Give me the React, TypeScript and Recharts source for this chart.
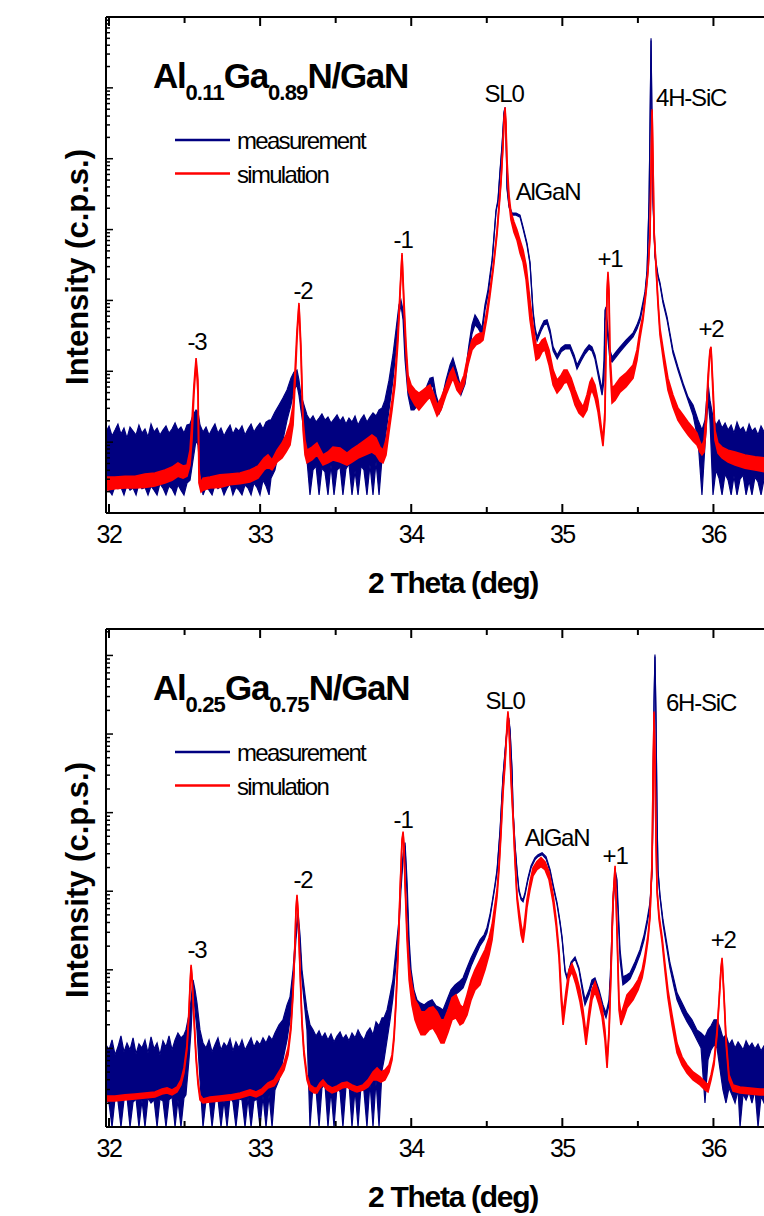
import React from 'react';
import { ComposedChart, Area, XAxis, YAxis, ReferenceDot } from 'recharts';

// Each row: [2 Theta (deg), lower edge of trace, upper edge of trace] in c.p.s.
type Row = [number, number, number];

const NAVY = '#000080';
const RED = '#ff0000';
const FONT = '"Liberation Sans", Arial, Helvetica, sans-serif';

const xTicks = [32, 32.5, 33, 33.5, 34, 34.5, 35, 35.5, 36, 36.5];
const xTickLabels = ['32', '', '33', '', '34', '', '35', '', '36', ''];
const decadesTop = [1, 10, 100, 1000, 10000, 100000, 1000000];
const decadesBottom = [1, 10, 100, 1000, 10000, 100000, 1000000];
const minorSteps = [1, 2, 3, 4, 5, 6, 7, 8, 9];

const topMeasurement: Row[] = [
  [31.98, 2.25, 13.9], [32.0, 2.1, 16.9], [32.02, 1.8, 12.2], [32.04, 2.4, 14.8],
  [32.059, 2.2, 18.0], [32.079, 2.3, 13.0], [32.099, 1.8, 15.8], [32.119, 2.5, 11.4],
  [32.139, 2.1, 16.3], [32.159, 2.25, 14.3], [32.179, 1.8, 12.6], [32.198, 2.6, 17.4],
  [32.218, 2.2, 13.4], [32.238, 2.3, 15.3], [32.258, 1.8, 11.8], [32.278, 2.4, 18.0],
  [32.298, 2.1, 13.9], [32.318, 1.8, 15.8], [32.337, 2.6, 12.6], [32.357, 2.25, 14.8],
  [32.377, 1.8, 16.9], [32.397, 2.4, 13.4], [32.417, 2.2, 15.3], [32.437, 1.8, 18.6],
  [32.456, 2.5, 14.8], [32.476, 2.1, 16.3], [32.496, 1.8, 13.4], [32.516, 2.65, 17.4],
  [32.536, 2.9, 18.0], [32.556, 5.6, 24.2], [32.576, 10.7, 28.5], [32.589, 9.1, 26.7],
  [32.602, 4.05, 17.4], [32.622, 1.8, 13.9], [32.642, 2.3, 16.3], [32.662, 2.1, 12.6],
  [32.682, 1.8, 15.3], [32.701, 2.5, 18.0], [32.721, 2.2, 13.4], [32.741, 2.4, 15.8],
  [32.761, 1.8, 12.2], [32.781, 2.25, 14.8], [32.801, 2.6, 17.4], [32.82, 1.8, 13.0],
  [32.84, 2.3, 15.8], [32.86, 2.1, 14.3], [32.88, 1.8, 16.9], [32.9, 2.5, 12.6],
  [32.92, 2.25, 15.3], [32.94, 1.8, 18.0], [32.959, 2.65, 13.9], [32.979, 2.3, 16.3],
  [32.999, 1.8, 18.6], [33.019, 2.9, 15.3], [33.039, 2.4, 19.2], [33.059, 1.8, 20.5],
  [33.072, 3.1, 20.5], [33.098, 4.05, 26.7], [33.125, 7.7, 33.4], [33.151, 10.7, 41.8],
  [33.178, 20.5, 54.4], [33.204, 33.4, 80], [33.224, 54.4, 97.5], [33.244, 64, 104],
  [33.257, 46.2, 75], [33.27, 28.5, 46.2], [33.29, 14.8, 33.4], [33.31, 5.6, 24.2],
  [33.33, 1.8, 20.5], [33.35, 4.05, 23.4], [33.37, 4.6, 19.2], [33.39, 1.8, 21.9],
  [33.409, 4.3, 25.0], [33.429, 3.8, 20.5], [33.449, 1.8, 22.6], [33.469, 4.75, 18.6],
  [33.489, 1.8, 21.2], [33.509, 4.05, 24.2], [33.529, 4.45, 19.8], [33.548, 1.8, 22.6],
  [33.568, 4.18, 18.0], [33.588, 4.92, 21.9], [33.608, 1.8, 19.2], [33.628, 3.92, 23.4],
  [33.648, 1.8, 17.4], [33.668, 4.6, 21.2], [33.687, 4.05, 24.2], [33.707, 1.8, 19.2],
  [33.727, 4.75, 22.6], [33.747, 1.8, 25.8], [33.767, 5.25, 23.4], [33.787, 1.8, 28.5],
  [33.807, 5.97, 30.4], [33.826, 10.7, 39.1], [33.853, 28.5, 75], [33.879, 75, 170],
  [33.899, 200, 383], [33.919, 626, 864], [33.932, 864, 1015], [33.946, 532, 727],
  [33.959, 144, 276], [33.979, 46.2, 75], [33.999, 28.5, 46.2], [34.018, 28.5, 39.1],
  [34.045, 33.4, 49.3], [34.071, 33.4, 46.2], [34.098, 41.8, 58], [34.124, 58, 80],
  [34.144, 62, 82.6], [34.164, 33.4, 46.2], [34.184, 25.0, 33.4], [34.204, 31.4, 41.8],
  [34.23, 54.4, 75], [34.257, 94, 123], [34.276, 119, 154], [34.303, 75, 97.5],
  [34.329, 46.2, 58], [34.356, 66, 88], [34.382, 170, 236], [34.402, 336, 452],
  [34.422, 452, 626], [34.442, 408, 532], [34.468, 325, 408], [34.488, 727, 864],
  [34.508, 1200, 1410], [34.521, 1970, 2300], [34.535, 3480, 3700], [34.548, 7810, 8340],
  [34.561, 17700, 18900], [34.574, 24600, 26200], [34.588, 65500, 70000], [34.601, 147000, 157000],
  [34.614, 435000, 464000], [34.621, 497000, 532000], [34.627, 242000, 258000], [34.634, 37500, 40000],
  [34.647, 20800, 22300], [34.667, 16000, 17100], [34.694, 16000, 17100], [34.72, 15000, 16000],
  [34.74, 10200, 10900], [34.766, 6040, 6460], [34.786, 3260, 3480], [34.806, 669, 727],
  [34.82, 358, 408], [34.833, 268, 305], [34.859, 370, 422], [34.879, 452, 515],
  [34.899, 467, 532], [34.919, 336, 383], [34.939, 194, 221], [34.966, 149, 170],
  [34.992, 188, 214], [35.018, 207, 236], [35.051, 207, 236], [35.078, 149, 170],
  [35.097, 107, 123], [35.124, 140, 159], [35.15, 175, 200], [35.177, 207, 236],
  [35.196, 194, 221], [35.216, 149, 170], [35.243, 75, 88], [35.263, 46.2, 54.4],
  [35.276, 75, 144], [35.282, 532, 727], [35.289, 626, 810], [35.302, 276, 383],
  [35.315, 144, 200], [35.329, 135, 159], [35.355, 159, 188], [35.382, 188, 221],
  [35.421, 236, 276], [35.468, 305, 347], [35.494, 395, 452], [35.514, 515, 587],
  [35.534, 836, 955], [35.547, 1160, 1320], [35.561, 2540, 2680], [35.574, 24600, 26200],
  [35.58, 242000, 258000], [35.587, 4670000, 5000000], [35.594, 242000, 258000], [35.6, 24600, 26200],
  [35.613, 4100, 4370], [35.633, 2150, 2300], [35.646, 1670, 1780], [35.666, 922, 1015],
  [35.693, 532, 587], [35.712, 315, 347], [35.732, 181, 200], [35.765, 104, 115],
  [35.799, 62, 68], [35.832, 39.1, 43.2], [35.865, 24.2, 33.4], [35.898, 10.7, 20.5],
  [35.924, 1.8, 14.8], [35.944, 9.1, 20.5], [35.964, 39.1, 68], [35.977, 20.5, 39.1],
  [35.997, 1.8, 22.6], [36.017, 4.05, 17.4], [36.037, 3.1, 20.5], [36.057, 1.8, 15.8],
  [36.077, 3.55, 18.6], [36.097, 2.9, 14.8], [36.117, 1.8, 17.4], [36.136, 3.3, 13.4],
  [36.156, 1.8, 19.2], [36.176, 3.0, 14.8], [36.196, 3.45, 16.3], [36.216, 1.8, 13.0],
  [36.236, 2.83, 18.0], [36.255, 1.8, 14.3], [36.275, 3.22, 15.8], [36.295, 2.75, 12.6],
  [36.315, 1.8, 16.9], [36.335, 3.0, 13.9], [36.374, 1.8, 14.8], [36.44, 2.9, 13.9],
  [36.506, 2.1, 14.8],
];

const topSimulation: Row[] = [
  [31.98, 2.1, 3.22], [32.039, 2.2, 3.22], [32.106, 2.25, 3.3], [32.172, 2.25, 3.3],
  [32.238, 2.3, 3.55], [32.304, 2.4, 3.67], [32.37, 2.65, 4.05], [32.417, 2.9, 4.45],
  [32.456, 3.3, 5.1], [32.49, 3.1, 4.6], [32.516, 3.3, 4.75], [32.536, 4.75, 7.7],
  [32.549, 10.7, 20.5], [32.562, 46.2, 64], [32.576, 135, 154], [32.589, 46.2, 75],
  [32.595, 2.65, 4.05], [32.609, 1.98, 2.65], [32.622, 2.1, 3.1], [32.668, 2.25, 3.22],
  [32.734, 2.3, 3.45], [32.8, 2.5, 3.55], [32.867, 2.6, 3.67], [32.933, 2.75, 4.05],
  [32.986, 3.1, 4.6], [33.026, 4.05, 5.97], [33.052, 4.45, 6.6], [33.079, 4.05, 5.6],
  [33.112, 5.25, 7.7], [33.145, 5.97, 9.7], [33.171, 7.25, 12.6], [33.198, 9.1, 18.6],
  [33.218, 17.4, 33.4], [33.231, 64, 104], [33.244, 276, 383], [33.257, 864, 922],
  [33.27, 170, 236], [33.284, 14.8, 20.5], [33.297, 6.6, 10.7], [33.31, 5.1, 7.7],
  [33.343, 5.6, 8.5], [33.376, 6.6, 9.7], [33.416, 4.75, 6.6], [33.449, 5.1, 7.25],
  [33.482, 5.6, 8.5], [33.529, 5.25, 8.25], [33.575, 4.75, 7.0], [33.608, 5.25, 7.97],
  [33.648, 5.97, 9.1], [33.694, 6.6, 10.7], [33.74, 7.25, 12.6], [33.767, 6.6, 11.4],
  [33.793, 5.4, 8.5], [33.813, 5.1, 7.7], [33.833, 6.6, 10.7], [33.853, 13.9, 20.5],
  [33.873, 28.5, 39.1], [33.893, 64, 88], [33.913, 276, 383], [33.926, 1200, 1410],
  [33.939, 4370, 4660], [33.952, 727, 1015], [33.966, 170, 236], [33.979, 54.4, 88],
  [33.999, 41.8, 64], [34.025, 33.4, 54.4], [34.051, 28.5, 49.3], [34.078, 33.4, 54.4],
  [34.104, 39.1, 60], [34.124, 43.2, 64], [34.151, 30.4, 46.2], [34.171, 23.4, 33.4],
  [34.197, 28.5, 41.8], [34.23, 46.2, 64], [34.257, 64, 94], [34.276, 80, 111],
  [34.303, 54.4, 75], [34.323, 47.7, 64], [34.349, 64, 88], [34.376, 123, 170],
  [34.402, 200, 276], [34.429, 236, 325], [34.455, 252, 347], [34.475, 276, 347],
  [34.501, 568, 727], [34.521, 1160, 1410], [34.541, 2540, 2860], [34.554, 4520, 5150],
  [34.568, 8620, 9830], [34.581, 19500, 22300], [34.594, 45600, 50300], [34.607, 143000, 157000],
  [34.614, 325000, 352000], [34.621, 497000, 532000], [34.627, 258000, 304000], [34.634, 70000, 96000],
  [34.647, 23800, 30900], [34.66, 13700, 17700], [34.68, 9200, 12800], [34.7, 7100, 9830],
  [34.72, 4660, 7100], [34.74, 3480, 5150], [34.76, 1970, 3150], [34.786, 532, 1015],
  [34.806, 276, 452], [34.826, 144, 236], [34.846, 154, 236], [34.866, 188, 276],
  [34.885, 200, 295], [34.912, 123, 200], [34.939, 64, 104], [34.965, 49.3, 75],
  [34.992, 58, 88], [35.011, 68, 104], [35.031, 70.5, 104], [35.058, 50.9, 80],
  [35.084, 33.4, 54.4], [35.11, 25.8, 39.1], [35.137, 22.6, 31.4], [35.163, 28.5, 46.2],
  [35.183, 46.2, 70.5], [35.196, 54.4, 80], [35.216, 41.8, 64], [35.236, 26.7, 39.1],
  [35.256, 13.4, 17.4], [35.269, 8.8, 10.7], [35.282, 20.5, 28.5], [35.289, 200, 276],
  [35.296, 1200, 1410], [35.302, 2300, 2540], [35.309, 1015, 1410], [35.315, 123, 200],
  [35.329, 35.7, 58], [35.349, 39.1, 64], [35.382, 50.9, 80], [35.421, 60, 94],
  [35.468, 80, 123], [35.494, 144, 200], [35.514, 295, 383], [35.534, 532, 626],
  [35.554, 1280, 1410], [35.567, 2540, 2680], [35.58, 7810, 8340], [35.587, 65500, 70000],
  [35.594, 464000, 497000], [35.6, 91000, 96000], [35.607, 9200, 9830], [35.62, 2860, 3150],
  [35.633, 864, 1015], [35.646, 325, 408], [35.673, 123, 170], [35.699, 54.4, 80],
  [35.732, 31.4, 46.2], [35.765, 20.5, 30.4], [35.799, 15.8, 24.2], [35.832, 12.6, 19.2],
  [35.865, 10.4, 15.8], [35.891, 9.1, 13.4], [35.911, 7.25, 10.0], [35.924, 6.6, 8.8],
  [35.938, 7.25, 10.7], [35.951, 14.8, 24.2], [35.964, 64, 88], [35.977, 188, 200],
  [35.984, 207, 221], [35.997, 46.2, 64], [36.01, 10.7, 14.8], [36.03, 7.0, 9.7],
  [36.057, 5.97, 8.5], [36.097, 5.25, 7.7], [36.143, 4.75, 7.25], [36.209, 4.3, 6.6],
  [36.275, 4.05, 6.2], [36.341, 3.8, 5.97], [36.44, 3.67, 5.6],
];

const bottomMeasurement: Row[] = [
  [31.98, 2.21, 11.1], [32.0, 2.02, 9.57], [32.02, 1.0, 12.8], [32.04, 2.34, 8.27],
  [32.059, 2.14, 10.4], [32.079, 1.0, 14.4], [32.099, 2.21, 9.03], [32.119, 2.41, 11.7],
  [32.139, 1.0, 9.57], [32.159, 2.08, 13.6], [32.179, 2.27, 8.51], [32.198, 1.0, 11.4],
  [32.218, 2.21, 10.1], [32.238, 1.0, 12.8], [32.258, 2.34, 8.77], [32.278, 2.02, 14.0],
  [32.298, 2.21, 9.86], [32.318, 1.0, 11.7], [32.337, 2.27, 8.27], [32.357, 2.14, 12.5],
  [32.377, 1.0, 10.4], [32.397, 2.21, 14.4], [32.417, 2.41, 9.57], [32.437, 1.0, 12.8],
  [32.456, 2.21, 15.7], [32.476, 1.0, 13.6], [32.496, 2.34, 14.9], [32.509, 2.56, 17.2],
  [32.529, 7.14, 26.7], [32.543, 17.2, 41.5], [32.556, 55.6, 74.6], [32.569, 30.9, 55.6],
  [32.582, 17.2, 38.0], [32.602, 3.97, 17.2], [32.622, 1.0, 11.7], [32.642, 2.21, 10.1],
  [32.662, 2.34, 12.8], [32.682, 1.0, 9.03], [32.701, 2.14, 11.1], [32.721, 2.27, 13.6],
  [32.741, 1.0, 9.57], [32.761, 2.21, 11.7], [32.781, 1.0, 10.4], [32.801, 2.41, 13.2],
  [32.82, 2.08, 9.29], [32.84, 1.0, 12.1], [32.86, 2.27, 10.1], [32.88, 2.21, 12.8],
  [32.9, 1.0, 9.57], [32.92, 2.34, 11.4], [32.94, 1.0, 13.6], [32.959, 2.14, 10.4],
  [32.979, 2.27, 12.5], [32.999, 1.0, 11.1], [33.019, 2.48, 13.6], [33.039, 1.0, 11.7],
  [33.059, 2.56, 14.4], [33.079, 1.0, 12.8], [33.098, 2.96, 15.7], [33.125, 3.97, 19.9],
  [33.151, 7.14, 23.1], [33.178, 12.8, 35.8], [33.198, 23.1, 45.3], [33.218, 64.4, 100],
  [33.237, 241, 323], [33.251, 459, 532], [33.264, 208, 279], [33.277, 74.6, 100],
  [33.297, 30.9, 48.0], [33.31, 17.2, 30.9], [33.33, 1.0, 19.9], [33.35, 3.43, 17.2],
  [33.37, 2.96, 14.4], [33.39, 1.0, 16.7], [33.409, 3.14, 13.6], [33.429, 3.53, 15.7],
  [33.449, 1.0, 12.8], [33.469, 2.96, 15.3], [33.489, 1.0, 12.1], [33.509, 3.33, 14.4],
  [33.529, 2.79, 16.2], [33.548, 1.0, 13.2], [33.568, 3.23, 14.9], [33.588, 3.63, 12.5],
  [33.608, 1.0, 15.7], [33.628, 3.05, 13.6], [33.648, 1.0, 17.2], [33.668, 3.43, 14.4],
  [33.687, 2.87, 12.8], [33.707, 1.0, 16.2], [33.727, 3.74, 18.2], [33.747, 1.0, 14.9],
  [33.767, 3.97, 21.8], [33.787, 1.0, 19.4], [33.807, 5.32, 24.5], [33.82, 7.14, 24.5],
  [33.84, 12.8, 30.9], [33.86, 23.1, 48.0], [33.879, 44.0, 74.6], [33.899, 116, 180],
  [33.919, 323, 434], [33.932, 1045, 1400], [33.946, 2520, 2920], [33.959, 3800, 4150],
  [33.972, 902, 1400], [33.986, 155, 241], [33.999, 64.4, 100], [34.018, 35.8, 55.6],
  [34.038, 29.2, 41.5], [34.058, 26.7, 38.0], [34.085, 25.2, 35.8], [34.111, 27.5, 39.1],
  [34.138, 29.2, 41.5], [34.164, 24.5, 34.8], [34.19, 23.1, 32.8], [34.21, 21.8, 30.9],
  [34.237, 30.9, 41.5], [34.263, 41.5, 55.6], [34.29, 48.0, 64.4], [34.316, 52.5, 70.3],
  [34.343, 59.0, 79.1], [34.369, 79.1, 106], [34.396, 112, 142], [34.422, 146, 180],
  [34.455, 202, 241], [34.482, 241, 279], [34.501, 296, 343], [34.521, 459, 502],
  [34.535, 673, 714], [34.554, 1140, 1210], [34.568, 1770, 1880], [34.588, 5730, 6070],
  [34.607, 27100, 28800], [34.627, 80200, 85000], [34.64, 136000, 144000], [34.647, 144000, 153000],
  [34.654, 108000, 114000], [34.667, 33300, 35300], [34.674, 10300, 10900], [34.687, 3690, 3910],
  [34.7, 1770, 1880], [34.713, 986, 1045], [34.727, 780, 826], [34.74, 735, 780],
  [34.753, 902, 957], [34.773, 1400, 1490], [34.793, 1990, 2110], [34.819, 2520, 2670],
  [34.839, 2750, 2920], [34.866, 2920, 3090], [34.892, 2590, 2750], [34.919, 1770, 1880],
  [34.939, 1140, 1210], [34.965, 673, 714], [34.985, 385, 409], [34.998, 248, 263],
  [35.018, 94.3, 100], [35.031, 76.8, 81.5], [35.058, 119, 126], [35.084, 138, 146],
  [35.11, 100, 106], [35.137, 48.0, 55.6], [35.15, 35.8, 41.5], [35.177, 48.0, 55.6],
  [35.196, 64.4, 74.6], [35.216, 68.3, 79.1], [35.243, 48.0, 55.6], [35.269, 30.9, 35.8],
  [35.289, 24.5, 28.3], [35.309, 35.8, 41.5], [35.322, 100, 134], [35.335, 581, 780],
  [35.349, 1620, 1880], [35.362, 1045, 1400], [35.368, 581, 714], [35.382, 134, 180],
  [35.401, 64.4, 81.5], [35.428, 70.3, 86.4], [35.448, 76.8, 91.6], [35.481, 106, 126],
  [35.514, 155, 180], [35.541, 241, 279], [35.561, 385, 434], [35.58, 653, 714],
  [35.594, 1770, 1880], [35.6, 13800, 14700], [35.607, 259000, 275000], [35.613, 971000, 1030000],
  [35.62, 144000, 153000], [35.627, 7680, 8140], [35.633, 1770, 1880], [35.646, 851, 902],
  [35.666, 385, 434], [35.693, 180, 208], [35.712, 106, 123], [35.739, 60.7, 74.6],
  [35.759, 41.5, 50.9], [35.792, 29.2, 38.0], [35.825, 21.8, 28.3], [35.858, 17.2, 23.1],
  [35.891, 12.8, 17.2], [35.918, 10.1, 15.7], [35.944, 2.02, 14.0], [35.964, 7.14, 17.2],
  [35.984, 9.57, 19.4], [36.004, 11.1, 23.1], [36.024, 10.1, 23.1], [36.044, 5.32, 18.2],
  [36.063, 2.96, 13.6], [36.083, 2.02, 14.9], [36.103, 3.14, 11.1], [36.123, 2.56, 12.8],
  [36.143, 2.02, 10.1], [36.163, 2.96, 12.1], [36.176, 1.0, 11.1], [36.196, 2.63, 9.57],
  [36.216, 2.21, 12.5], [36.236, 2.79, 10.4], [36.255, 2.02, 11.7], [36.275, 2.96, 9.86],
  [36.295, 1.0, 11.4], [36.315, 2.48, 9.29], [36.335, 2.02, 10.8], [36.374, 2.63, 10.1],
  [36.44, 2.02, 10.8],
];

const bottomSimulation: Row[] = [
  [31.98, 2.14, 2.48], [32.039, 2.14, 2.48], [32.106, 2.21, 2.56], [32.172, 2.27, 2.63],
  [32.238, 2.34, 2.71], [32.304, 2.41, 2.79], [32.351, 2.63, 3.05], [32.384, 2.71, 3.14],
  [32.417, 2.56, 2.96], [32.45, 2.79, 3.23], [32.476, 3.43, 3.97], [32.496, 4.87, 5.64],
  [32.516, 9.57, 11.1], [32.529, 26.7, 30.9], [32.536, 59.0, 64.4], [32.543, 109, 116],
  [32.549, 74.6, 86.4], [32.562, 23.1, 26.7], [32.576, 7.14, 8.27], [32.589, 3.43, 3.97],
  [32.602, 2.21, 2.56], [32.622, 2.02, 2.27], [32.668, 2.08, 2.41], [32.734, 2.14, 2.48],
  [32.8, 2.21, 2.56], [32.867, 2.34, 2.71], [32.933, 2.56, 2.96], [32.973, 2.41, 2.79],
  [33.012, 2.63, 3.05], [33.052, 3.14, 3.63], [33.092, 3.33, 3.97], [33.132, 4.33, 5.32],
  [33.158, 5.32, 6.53], [33.185, 8.27, 10.1], [33.204, 17.2, 19.9], [33.218, 48.0, 55.6],
  [33.231, 208, 241], [33.237, 548, 581], [33.244, 851, 902], [33.251, 517, 581],
  [33.264, 94.3, 106], [33.277, 19.9, 23.1], [33.29, 8.27, 9.57], [33.31, 3.97, 4.6],
  [33.33, 2.96, 3.43], [33.357, 2.71, 3.14], [33.376, 2.71, 3.14], [33.396, 3.14, 3.63],
  [33.416, 3.43, 3.97], [33.443, 2.96, 3.43], [33.476, 2.71, 3.14], [33.509, 2.87, 3.33],
  [33.542, 3.14, 3.63], [33.575, 3.23, 3.74], [33.608, 2.96, 3.43], [33.641, 2.79, 3.23],
  [33.681, 2.96, 3.43], [33.714, 3.23, 3.97], [33.747, 3.97, 5.02], [33.774, 3.97, 5.64],
  [33.8, 3.74, 5.02], [33.826, 3.97, 5.32], [33.853, 5.02, 6.16], [33.873, 7.14, 8.27],
  [33.886, 12.8, 14.9], [33.899, 35.8, 41.5], [33.913, 155, 180], [33.926, 957, 1045],
  [33.939, 4270, 4530], [33.946, 5400, 5730], [33.952, 3580, 3910], [33.959, 1210, 1400],
  [33.972, 241, 323], [33.986, 74.6, 116], [34.005, 35.8, 64.4], [34.025, 23.1, 41.5],
  [34.045, 18.2, 35.8], [34.065, 14.9, 29.2], [34.091, 14.9, 29.2], [34.118, 17.2, 32.8],
  [34.144, 18.2, 33.8], [34.171, 14.9, 29.2], [34.197, 11.7, 23.1], [34.217, 11.7, 23.1],
  [34.244, 16.2, 30.9], [34.27, 23.1, 44.0], [34.296, 24.5, 48.0], [34.323, 19.9, 35.8],
  [34.343, 21.1, 32.8], [34.369, 26.7, 48.0], [34.396, 41.5, 74.6], [34.422, 55.6, 100],
  [34.455, 64.4, 134], [34.488, 100, 180], [34.515, 155, 256], [34.535, 241, 374],
  [34.554, 502, 673], [34.568, 851, 1045], [34.581, 1880, 2180], [34.594, 5250, 6070],
  [34.607, 16900, 19600], [34.621, 40900, 47300], [34.634, 121000, 132000], [34.64, 182000, 194000],
  [34.647, 121000, 132000], [34.66, 26300, 30500], [34.674, 8140, 9440], [34.687, 2310, 2670],
  [34.7, 780, 902], [34.713, 459, 581], [34.727, 279, 374], [34.74, 221, 279],
  [34.753, 343, 459], [34.766, 617, 780], [34.786, 1045, 1320], [34.806, 1575, 1990],
  [34.832, 1880, 2380], [34.859, 2050, 2670], [34.885, 1880, 2380], [34.912, 1400, 1770],
  [34.939, 714, 902], [34.958, 374, 459], [34.978, 142, 180], [34.992, 41.5, 55.6],
  [35.005, 19.9, 26.7], [35.025, 41.5, 55.6], [35.044, 79.1, 100], [35.064, 94.3, 119],
  [35.091, 64.4, 86.4], [35.117, 39.1, 55.6], [35.137, 23.1, 30.9], [35.157, 11.1, 14.9],
  [35.177, 23.1, 30.9], [35.196, 41.5, 55.6], [35.216, 52.5, 70.3], [35.243, 35.8, 48.0],
  [35.263, 25.2, 33.8], [35.282, 12.8, 17.2], [35.296, 5.64, 7.14], [35.309, 14.9, 17.2],
  [35.322, 86.4, 100], [35.335, 673, 780], [35.349, 1990, 2110], [35.362, 279, 323],
  [35.375, 30.9, 41.5], [35.388, 19.9, 26.7], [35.408, 25.2, 35.8], [35.428, 32.8, 48.0],
  [35.468, 41.5, 59.0], [35.501, 55.6, 74.6], [35.528, 79.1, 100], [35.547, 126, 155],
  [35.567, 241, 279], [35.58, 459, 502], [35.594, 2380, 2520], [35.6, 24800, 26300],
  [35.607, 182000, 194000], [35.613, 44700, 47300], [35.62, 4270, 4530], [35.627, 957, 1045],
  [35.64, 434, 502], [35.66, 227, 263], [35.68, 94.3, 116], [35.699, 44.0, 55.6],
  [35.726, 19.9, 26.7], [35.759, 8.77, 11.7], [35.792, 6.16, 7.8], [35.825, 4.87, 6.16],
  [35.865, 3.97, 5.02], [35.911, 3.43, 4.33], [35.944, 2.96, 3.74], [35.964, 2.79, 3.43],
  [35.984, 3.97, 4.6], [36.004, 6.16, 7.14], [36.024, 14.9, 17.2], [36.037, 38.0, 41.5],
  [36.05, 100, 106], [36.057, 134, 142], [36.07, 44.0, 48.0], [36.084, 11.1, 12.8],
  [36.103, 3.97, 4.6], [36.13, 2.87, 3.43], [36.176, 2.71, 3.23], [36.242, 2.63, 3.14],
  [36.308, 2.56, 3.05], [36.374, 2.56, 3.05], [36.44, 2.48, 2.96],
];

type PeakLabel = { text: string; x: number; y: number };

const topPeakLabels: PeakLabel[] = [
  { text: '-3', x: 32.582, y: 200 },
  { text: '-2', x: 33.284, y: 1050 },
  { text: '-1', x: 33.946, y: 5500 },
  { text: 'SL0', x: 34.614, y: 631000 },
  { text: 'AlGaN', x: 34.905, y: 26200 },
  { text: '+1', x: 35.315, y: 2950 },
  { text: '4H-SiC', x: 35.852, y: 555000 },
  { text: '+2', x: 35.984, y: 305 },
];

const bottomPeakLabels: PeakLabel[] = [
  { text: '-3', x: 32.582, y: 142 },
  { text: '-2', x: 33.284, y: 1110 },
  { text: '-1', x: 33.946, y: 6440 },
  { text: 'SL0', x: 34.621, y: 211000 },
  { text: 'AlGaN', x: 34.965, y: 3800 },
  { text: '+1', x: 35.349, y: 2240 },
  { text: '6H-SiC', x: 35.918, y: 194000 },
  { text: '+2', x: 36.064, y: 191 },
];

const legendNames = ['measurement', 'simulation'];
const legendColors = [NAVY, RED];
const xAxisTitle = '2 Theta (deg)';
const yAxisTitle = 'Intensity (c.p.s.)';
const topSubscripts = ['0.11', '0.89'];
const bottomSubscripts = ['0.25', '0.75'];

const X_DOMAIN: [number, number] = [31.98, 36.5];
const PX_PER_DEG = 151.1;
const PLOT_LEFT = 106;
const PLOT_W = Math.round((X_DOMAIN[1] - X_DOMAIN[0]) * PX_PER_DEG);
const CHART_W = 820;
const CHART_H = 600;
const X_AXIS_H = 40;
const TOP_AXIS_H = 10;
const Y_AXIS_W = 10;

const toTable = (rows: Row[]) => rows.map(([x, lo, hi]) => ({ x, band: [lo, hi] }));
const logTicks = (decades: number[], top: number) => {
  const out: number[] = [];
  decades.forEach((d) => minorSteps.forEach((m) => { if (d * m <= top) out.push(d * m); }));
  return out;
};

const isMajorX = (v: number) => Math.abs(v - Math.round(v)) < 1e-6;
const isMajorY = (v: number) => Math.abs(Math.log10(v) - Math.round(Math.log10(v))) < 1e-6;

const BottomTick = (props: any) => {
  const { x, y, payload } = props;
  const major = isMajorX(payload.value);
  const idx = xTicks.indexOf(payload.value);
  return (
    <g>
      <line x1={x} x2={x} y1={y} y2={y - (major ? 9 : 6)} stroke="#000" strokeWidth={2} />
      {major && (
        <text x={x} y={y + 30} textAnchor="middle" fontFamily={FONT} fontSize={25} letterSpacing={-1.5} fill="#000">
          {idx >= 0 ? xTickLabels[idx] : String(payload.value)}
        </text>
      )}
    </g>
  );
};

const TopTick = (props: any) => {
  const { x, y, payload } = props;
  const major = isMajorX(payload.value);
  return <line x1={x} x2={x} y1={y} y2={y + (major ? 9 : 6)} stroke="#000" strokeWidth={2} />;
};

const LeftTick = (props: any) => {
  const { x, y, payload } = props;
  const major = isMajorY(payload.value);
  return <line x1={x} x2={x + (major ? 7 : 4)} y1={y} y2={y} stroke="#000" strokeWidth={1.5} />;
};

type PanelProps = {
  meas: Row[];
  sim: Row[];
  yDomain: [number, number];
  decades: number[];
  labels: PeakLabel[];
  top: number;
  marginBottom: number;
};

function Panel({ meas, sim, yDomain, decades, labels, top, marginBottom }: PanelProps) {
  const measData = toTable(meas);
  const simData = toTable(sim);
  const yTicks = logTicks(decades, yDomain[1]);
  return (
    <div style={{ position: 'absolute', left: 0, top, width: CHART_W, height: CHART_H }}>
      <ComposedChart
        width={CHART_W}
        height={CHART_H}
        margin={{
          top: 17 - TOP_AXIS_H,
          left: PLOT_LEFT - Y_AXIS_W,
          right: CHART_W - PLOT_LEFT - PLOT_W,
          bottom: marginBottom - X_AXIS_H,
        }}
      >
        <XAxis
          dataKey="x"
          type="number"
          domain={X_DOMAIN}
          ticks={xTicks}
          interval={0}
          allowDataOverflow
          height={X_AXIS_H}
          tickSize={0}
          tickMargin={0}
          tickLine={false}
          axisLine={{ stroke: '#000', strokeWidth: 2 }}
          tick={(p: any) => <BottomTick {...p} />}
        />
        <XAxis
          xAxisId="top"
          orientation="top"
          dataKey="x"
          type="number"
          domain={X_DOMAIN}
          ticks={xTicks}
          interval={0}
          allowDataOverflow
          height={TOP_AXIS_H}
          tickSize={0}
          tickMargin={0}
          tickLine={false}
          axisLine={{ stroke: '#000', strokeWidth: 2 }}
          tick={(p: any) => <TopTick {...p} />}
        />
        <YAxis
          type="number"
          scale="log"
          domain={yDomain}
          ticks={yTicks}
          interval={0}
          allowDataOverflow
          width={Y_AXIS_W}
          tickSize={0}
          tickMargin={0}
          tickLine={false}
          axisLine={{ stroke: '#000', strokeWidth: 2 }}
          tick={(p: any) => <LeftTick {...p} />}
        />
        <Area
          data={measData}
          dataKey="band"
          type="linear"
          stroke={NAVY}
          strokeWidth={1.2}
          fill={NAVY}
          fillOpacity={1}
          dot={false}
          activeDot={false}
          isAnimationActive={false}
        />
        <Area
          data={simData}
          dataKey="band"
          type="linear"
          stroke={RED}
          strokeWidth={1.6}
          fill={RED}
          fillOpacity={1}
          dot={false}
          activeDot={false}
          isAnimationActive={false}
        />
        {labels.map((l) => (
          <ReferenceDot
            key={l.text}
            x={l.x}
            y={l.y}
            r={0}
            ifOverflow="visible"
            shape={(p: any) => (
              <text x={p.cx} y={p.cy} textAnchor="middle" fontFamily={FONT} fontSize={24} letterSpacing={-1.2} fill="#000">
                {l.text}
              </text>
            )}
          />
        ))}
      </ComposedChart>
    </div>
  );
}

function Title({ y, subs }: { y: number; subs: string[] }) {
  return (
    <text x={153} y={y} fontFamily={FONT} fontWeight="bold" fontSize={35} letterSpacing={-1.3} fill="#000">
      Al
      <tspan fontSize={22} dy={12} letterSpacing={-0.8}>{subs[0]}</tspan>
      <tspan dy={-12}>Ga</tspan>
      <tspan fontSize={22} dy={12} letterSpacing={-0.8}>{subs[1]}</tspan>
      <tspan dy={-12}>N/GaN</tspan>
    </text>
  );
}

function LegendBlock({ y }: { y: number }) {
  return (
    <g>
      {legendNames.map((name, i) => (
        <g key={name}>
          <line x1={175} x2={230} y1={y + i * 33.5} y2={y + i * 33.5} stroke={legendColors[i]} strokeWidth={2.5} />
          <text x={237} y={y + i * 33.5 + 9} fontFamily={FONT} fontSize={24} letterSpacing={-1.7} fill="#000">
            {name}
          </text>
        </g>
      ))}
    </g>
  );
}

function AxisTitles({ plotBottom, yCenter }: { plotBottom: number; yCenter: number }) {
  return (
    <g>
      <text x={453} y={plotBottom + 80} textAnchor="middle" fontFamily={FONT} fontWeight="bold" fontSize={30} letterSpacing={-1.3} fill="#000">
        {xAxisTitle}
      </text>
      <text
        x={88}
        y={yCenter}
        transform={`rotate(-90, 88, ${yCenter})`}
        textAnchor="middle"
        fontFamily={FONT}
        fontWeight="bold"
        fontSize={31}
        fill="#000"
      >
        {yAxisTitle}
      </text>
    </g>
  );
}

export default function App() {
  return (
    <div style={{ position: 'fixed', left: 0, top: 0, width: 764, height: 1216, overflow: 'hidden', background: '#fff' }}>
      <Panel
        meas={topMeasurement}
        sim={topSimulation}
        yDomain={[1, 1e7]}
        decades={decadesTop}
        labels={topPeakLabels}
        top={0}
        marginBottom={CHART_H - 513}
      />
      <Panel
        meas={bottomMeasurement}
        sim={bottomSimulation}
        yDomain={[1, 2.17e6]}
        decades={decadesBottom}
        labels={bottomPeakLabels}
        top={612}
        marginBottom={CHART_H - 17 - 498}
      />
      <svg width={764} height={1216} style={{ position: 'absolute', left: 0, top: 0, pointerEvents: 'none' }}>
        <Title y={88} subs={topSubscripts} />
        <Title y={700} subs={bottomSubscripts} />
        <LegendBlock y={140} />
        <LegendBlock y={752} />
        <AxisTitles plotBottom={513} yCenter={267} />
        <AxisTitles plotBottom={1127} yCenter={880} />
      </svg>
    </div>
  );
}
